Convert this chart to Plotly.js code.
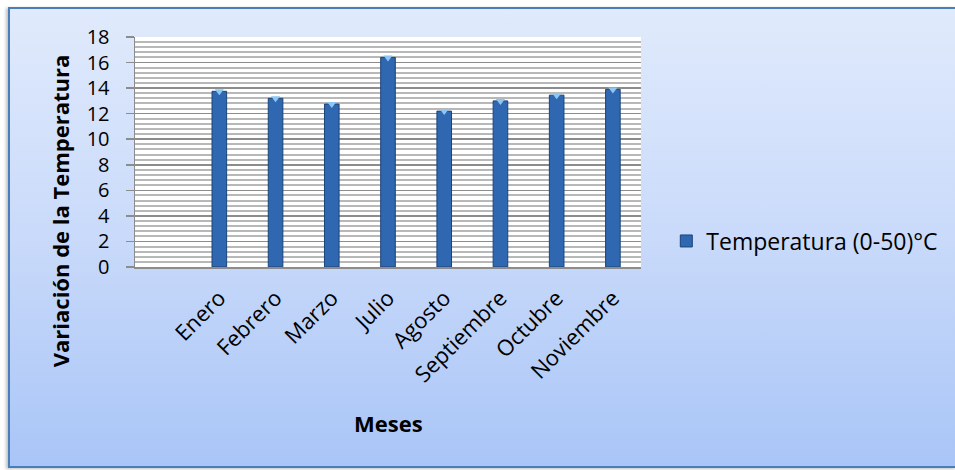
<!DOCTYPE html>
<html>
<head>
<meta charset="utf-8">
<script src="https://cdn.plot.ly/plotly-3.0.1.min.js"></script>
<style>
  html, body { margin: 0; padding: 0; background: #ffffff; }
  #frame {
    position: absolute; left: 8px; top: 7px; width: 949px; height: 461px;
    box-sizing: border-box; border: 2px solid #4a7ebb;
    background: linear-gradient(to bottom, #e0eafc 0%, #c9dafa 50%, #a9c5f7 100%);
    box-shadow: -2px 1px 3px rgba(0,0,0,0.25);
  }
  #chart { width: 945px; height: 457px; }
</style>
</head>
<body>
<div id="frame"><div id="chart"></div></div>
<script>
const months = ["Enero", "Febrero", "Marzo", "Julio", "Agosto", "Septiembre", "Octubre", "Noviembre"];
const temperatures = [13.75, 13.2, 12.75, 16.4, 12.2, 13.0, 13.45, 13.9];
const seriesName = "Temperatura (0-50)°C";
const yTitle = "Variación de la Temperatura";
const xTitle = "Meses";

const font = "Open Sans, Lato, sans-serif";

const bars = {
  type: "bar",
  x: months,
  y: temperatures,
  name: seriesName,
  width: 0.26,
  marker: { color: "#2f67b0", line: { color: "#1c4479", width: 1 } },
  hoverinfo: "x+y"
};
const caps = {
  type: "scatter",
  mode: "markers",
  x: months,
  y: temperatures,
  showlegend: false,
  hoverinfo: "skip",
  marker: { symbol: "triangle-down", size: 8, color: "#8cc6f5", line: { width: 0 } }
};

const layout = {
  width: 945, height: 457,
  margin: { l: 125, r: 312, t: 28, b: 199 },
  paper_bgcolor: "rgba(0,0,0,0)",
  plot_bgcolor: "#ffffff",
  font: { family: font, color: "#000000" },
  showlegend: true,
  legend: {
    x: 1.05, xanchor: "left", y: 0.113, yanchor: "middle",
    bgcolor: "rgba(0,0,0,0)", font: { size: 23, family: font }
  },
  xaxis: {
    type: "category",
    range: [-1.5, 7.5],
    tickangle: -45,
    tickfont: { size: 22, family: font },
    ticklabelstandoff: 8,
    showline: true, linecolor: "#8c8c8c", linewidth: 1.5,
    showgrid: false, ticks: "", fixedrange: true
  },
  yaxis: {
    range: [0, 18],
    dtick: 2,
    tickfont: { size: 20, family: font },
    ticklabelstandoff: 12,
    showline: true, linecolor: "#8c8c8c", linewidth: 1.5,
    ticks: "outside", ticklen: 8, tickcolor: "#8c8c8c", tickwidth: 1.5,
    showgrid: true, gridcolor: "#8c8c8c", gridwidth: 1.5,
    zeroline: false,
    minor: { dtick: 0.4, showgrid: true, gridcolor: "#b8b8b8", gridwidth: 2, ticks: "" },
    fixedrange: true
  },
  annotations: [
    { text: "<b>" + yTitle + "</b>", xref: "paper", yref: "paper",
      x: -0.149, y: 0.245, xanchor: "center", yanchor: "middle",
      textangle: -90, showarrow: false,
      font: { size: 22, family: font } },
    { text: "<b>" + xTitle + "</b>", xref: "paper", yref: "paper",
      x: 0.5, y: -0.678, xanchor: "center", yanchor: "middle", showarrow: false,
      font: { size: 22, family: font } }
  ]
};

Plotly.newPlot("chart", [bars, caps], layout, { displayModeBar: false, staticPlot: true });
</script>
</body>
</html>
